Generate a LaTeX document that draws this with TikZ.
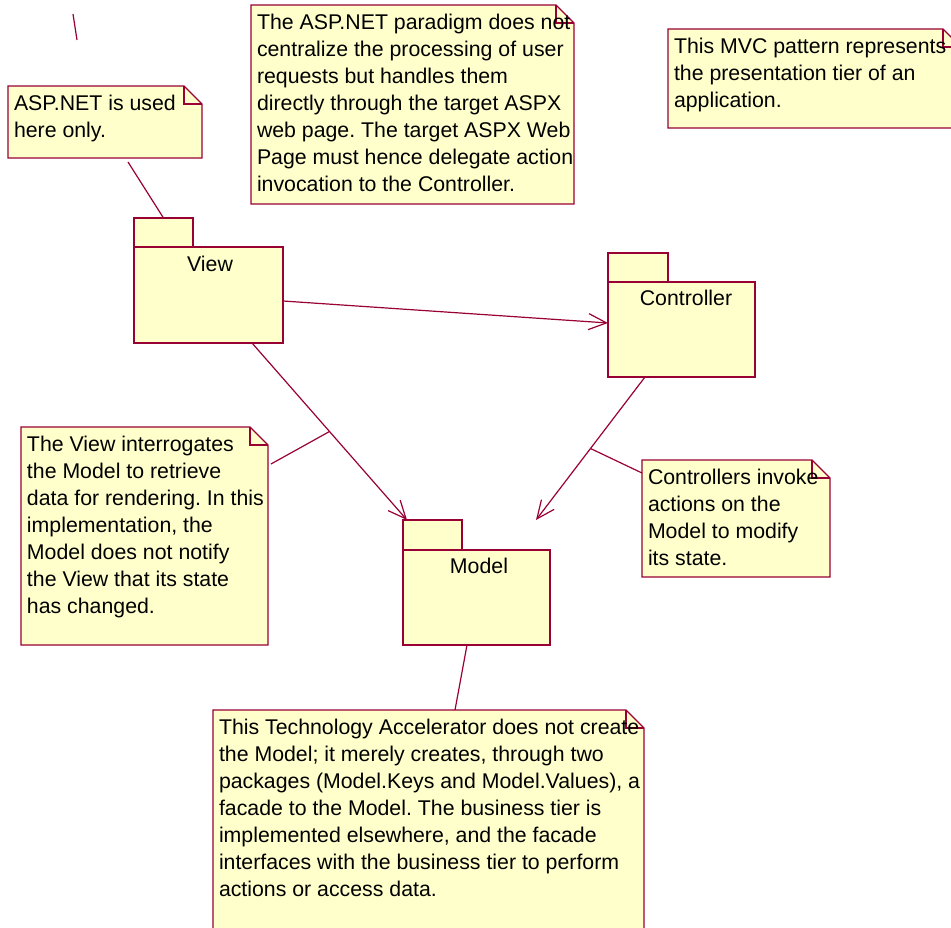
\documentclass[tikz,border=0pt]{standalone}
\usepackage{fontspec}
\setmainfont{Liberation Sans}
\usetikzlibrary{arrows.meta}
\definecolor{umlline}{RGB}{153,0,51}
\definecolor{umlfill}{RGB}{255,255,204}
\frenchspacing

% UML note: #1 name, (#2,#3) top-left corner, #4 width, #5 height, #6 text
\newcommand\umlnote[6]{%
  \node[notearea, minimum width=#4pt, minimum height=#5pt, anchor=north west] (#1) at (#2,#3) {};
  \filldraw[noteline] (#1.north west) -- ([xshift=-18pt]#1.north east)
    -- ([yshift=-18pt]#1.north east) -- (#1.south east) -- (#1.south west) -- cycle;
  \draw[noteline, fill=none] ([xshift=-18pt]#1.north east) |- ([yshift=-18pt]#1.north east);
  \node[notetext] (#1-text) at ([xshift=6pt,yshift=-9pt]#1.north west) {#6};
}

\begin{document}
\begin{tikzpicture}[x=1pt, y=-1pt,
  every node/.style={font=\fontsize{21.3}{27}\selectfont},
  noteline/.style={draw=umlline, fill=umlfill, line width=1.2pt, line join=miter},
  notearea/.style={draw=none, rectangle, inner sep=0pt, outer sep=0pt},
  notetext/.style={inner sep=0pt, outer sep=0pt, align=left, anchor=north west, text=black},
  pkgbox/.style={draw=umlline, fill=umlfill, line width=1.2pt, rectangle,
    inner sep=0pt, outer sep=0pt, anchor=north west},
  pkglabel/.style={inner sep=0pt, anchor=center, text=black},
  dep/.style={draw=umlline, line width=1.2pt, -{Straight Barb[length=18pt, width=16pt]}},
  link/.style={draw=umlline, line width=1.2pt}]
\useasboundingbox (0,0) rectangle (951,928);
\clip (0,0) rectangle (951,928);

% packages
\node[pkgbox, minimum width=59pt, minimum height=29pt] (vtab) at (134,218) {};
\node[pkgbox, minimum width=149pt, minimum height=96pt] (view) at (134,247) {};
\node[pkglabel] (viewlabel) at ([xshift=1.5pt, yshift=-17pt]view.north) {View};

\node[pkgbox, minimum width=60pt, minimum height=29pt] (ctab) at (608,253) {};
\node[pkgbox, minimum width=147pt, minimum height=95pt] (ctrl) at (608,282) {};
\node[pkglabel] (ctrllabel) at ([xshift=4.5pt, yshift=-16pt]ctrl.north) {Controller};

\node[pkgbox, minimum width=59pt, minimum height=30pt] (mtab) at (403,520) {};
\node[pkgbox, minimum width=147pt, minimum height=95pt] (model) at (403,550) {};
\node[pkglabel] (modellabel) at ([xshift=2.5pt, yshift=-16pt]model.north) {Model};

% notes
\umlnote{n1}{8}{86}{194}{72}{ASP.NET is used\\here only.}
\umlnote{n2}{251}{5}{323}{199}{The ASP.NET paradigm does not\\centralize the processing of user\\requests but handles them\\directly through the target ASPX\\web page. The target ASPX Web\\Page must hence delegate action\\invocation to the Controller.}
\umlnote{n3}{668}{29}{293}{99}{This MVC pattern represents\\the presentation tier of an\\application.}
\umlnote{n4}{21}{427}{247}{218}{The View interrogates\\the Model to retrieve\\data for rendering. In this\\implementation, the\\Model does not notify\\the View that its state\\has changed.}
\umlnote{n5}{642}{460}{188}{117}{Controllers invoke\\actions on the\\Model to modify\\its state.}
\umlnote{n6}{213}{710}{431}{240}{This Technology Accelerator does not create\\the Model; it merely creates, through two\\packages (Model.Keys and Model.Values), a\\facade to the Model. The business tier is\\implemented elsewhere, and the facade\\interfaces with the business tier to perform\\actions or access data.}

% dependencies
\draw[dep] ([yshift=-6pt]view.east) -- ([yshift=6.5pt]ctrl.west);
\draw[dep] ([xshift=43.5pt]view.south) -- coordinate[pos=0.5] (vm) ([xshift=4pt]mtab.north west);
\coordinate (cmtip) at ([xshift=-14pt, yshift=30pt]model.north east);
\draw[dep] ([xshift=-36.5pt]ctrl.south) -- coordinate[pos=0.5] (cm) (cmtip);

% note anchors
\draw[link] ([xshift=23pt, yshift=-4pt]n1.south) -- (vtab.north);
\draw[link] ([xshift=3pt, yshift=-37pt]n4.north east) -- (vm);
\draw[link] ([yshift=-13pt]n5.north west) -- (cm);
\draw[link] ([xshift=-9.5pt]model.south) -- ([xshift=26.5pt]n6.north);

% loose anchor fragment
\coordinate (frag1) at (73,14);
\coordinate (frag2) at (77,40);
\draw[link] (frag1) -- (frag2);
\end{tikzpicture}
\end{document}
